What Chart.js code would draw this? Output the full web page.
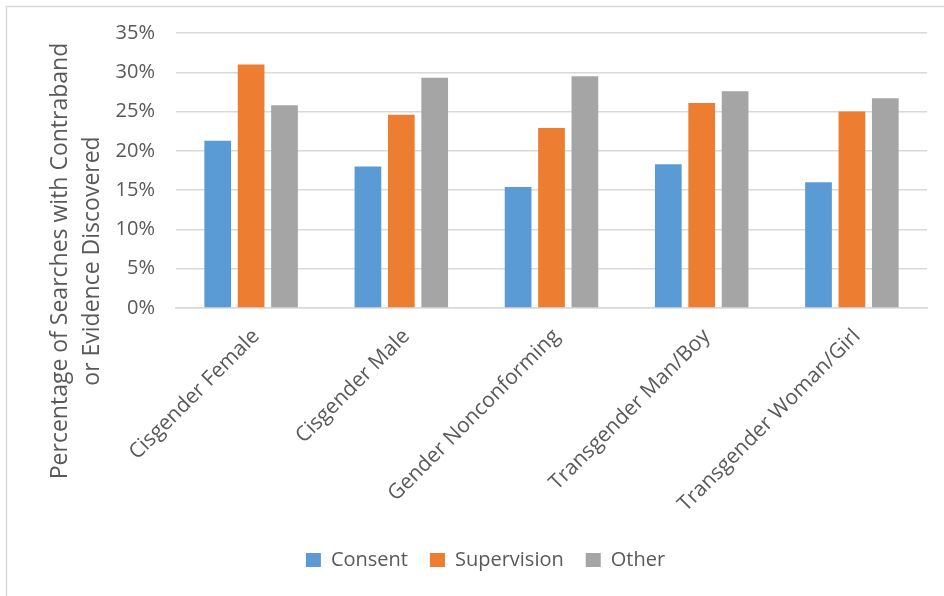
<!DOCTYPE html>
<html>
<head>
<meta charset="utf-8">
<script src="https://cdn.jsdelivr.net/npm/chart.js@4/dist/chart.umd.min.js"></script>
<style>
  html, body { margin: 0; padding: 0; background: #fff; }
  #wrap { width: 944px; height: 596px; position: relative; }
</style>
</head>
<body>
<div id="wrap"><canvas id="chart" width="944" height="596"></canvas></div>
<script>
var categories = ['Cisgender Female', 'Cisgender Male', 'Gender Nonconforming', 'Transgender Man/Boy', 'Transgender Woman/Girl'];
var consent = [21.3, 18.0, 15.4, 18.3, 16.0];
var supervision = [31.0, 24.6, 22.9, 26.1, 25.0];
var other = [25.8, 29.3, 29.5, 27.6, 26.7];
var yTicks = [0, 5, 10, 15, 20, 25, 30, 35];
var yTitle = ['Percentage of Searches with Contraband', 'or Evidence Discovered'];

var textColor = '#595959';
var fontFamily = '"Open Sans", sans-serif';

// frame lines + y title drawn by hand (title is centred on the whole figure, not the plot)
var frameAndTitle = {
  id: 'frameAndTitle',
  beforeDraw: function (chart) {
    var ctx = chart.ctx;
    ctx.save();
    ctx.strokeStyle = '#d9d9d9';
    ctx.lineWidth = 1.5;
    ctx.beginPath();
    ctx.moveTo(6.5, chart.height);
    ctx.lineTo(6.5, 6.5);
    ctx.lineTo(chart.width, 6.5);
    ctx.stroke();
    ctx.restore();
  },
  afterDraw: function (chart) {
    var ctx = chart.ctx;
    ctx.save();
    ctx.translate(60, 261);
    ctx.rotate(-Math.PI / 2);
    ctx.fillStyle = textColor;
    ctx.font = '23px ' + fontFamily;
    ctx.textAlign = 'center';
    ctx.textBaseline = 'middle';
    ctx.fillText(yTitle[0], 0, 0);
    ctx.fillText(yTitle[1], 0, 32);
    ctx.restore();
  }
};

new Chart(document.getElementById('chart'), {
  type: 'bar',
  data: {
    labels: categories,
    datasets: [{
      label: 'Consent',
      data: consent,
      backgroundColor: '#5B9BD5'
    }, {
      label: 'Supervision',
      data: supervision,
      backgroundColor: '#ED7D31'
    }, {
      label: 'Other',
      data: other,
      backgroundColor: '#A5A5A5'
    }]
  },
  options: {
    responsive: false,
    animation: false,
    categoryPercentage: 0.667,
    barPercentage: 0.8,
    layout: { padding: { left: 44, right: 17, top: 25, bottom: 16 } },
    scales: {
      x: {
        afterFit: function (scale) { scale.height = 220; },
        grid: { display: false },
        border: { color: '#d9d9d9', width: 1.5 },
        ticks: {
          color: textColor,
          font: { family: fontFamily, size: 21 },
          minRotation: 45,
          maxRotation: 45,
          padding: 8,
          labelOffset: 5
        }
      },
      y: {
        min: 0,
        max: 35,
        afterFit: function (scale) { scale.width = 132; },
        afterBuildTicks: function (scale) {
          scale.ticks = yTicks.map(function (v) { return { value: v }; });
        },
        border: { display: false },
        grid: { color: '#d9d9d9', lineWidth: 1.5, drawTicks: false },
        ticks: {
          color: textColor,
          font: { family: fontFamily, size: 20 },
          padding: 21,
          callback: function (v) { return v + '%'; }
        }
      }
    },
    plugins: {
      legend: {
        position: 'bottom',
        labels: {
          color: textColor,
          font: { family: fontFamily, size: 20 },
          boxWidth: 15,
          boxHeight: 14,
          padding: 22
        }
      },
      tooltip: { enabled: false }
    }
  },
  plugins: [frameAndTitle]
});
</script>
</body>
</html>
